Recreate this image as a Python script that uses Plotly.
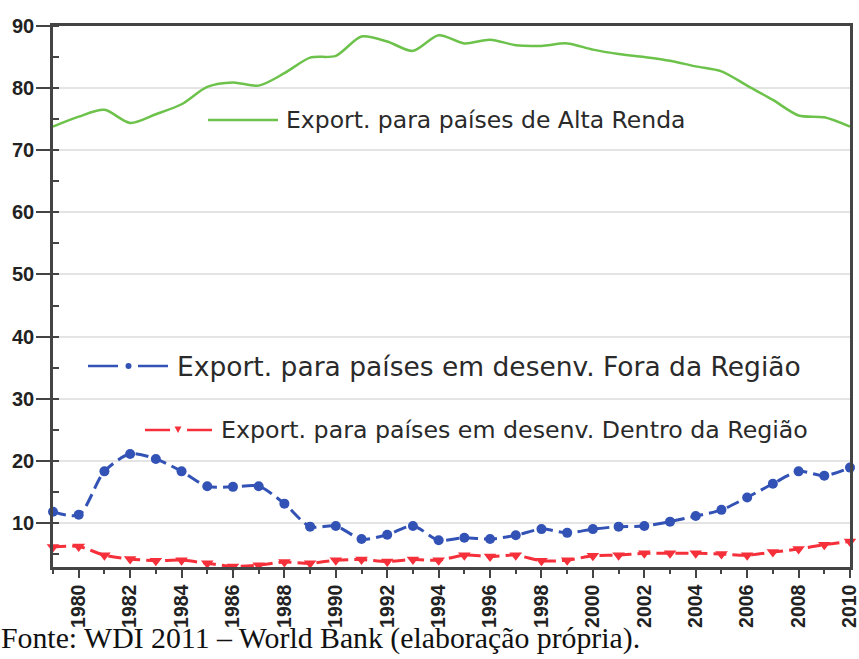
import plotly.graph_objects as go

# ---------------- data ----------------
years = list(range(1979, 2011))
alta_renda = [73.8, 75.4, 76.5, 74.4, 75.8, 77.4, 80.2, 80.9, 80.4, 82.4, 84.9, 85.2,
              88.3, 87.5, 86.0, 88.5, 87.2, 87.8, 86.9, 86.8, 87.2, 86.2, 85.5, 85.0,
              84.4, 83.5, 82.7, 80.4, 78.1, 75.6, 75.3, 73.8]
fora_regiao = [11.8, 11.3, 18.3, 21.1, 20.3, 18.3, 15.9, 15.8, 15.9, 13.1, 9.4, 9.5,
               7.4, 8.1, 9.5, 7.2, 7.6, 7.4, 8.0, 9.0, 8.4, 9.0, 9.4, 9.5,
               10.2, 11.1, 12.1, 14.1, 16.3, 18.3, 17.6, 18.9]
dentro_regiao = [6.1, 6.2, 4.8, 4.2, 3.9, 4.0, 3.5, 3.0, 3.2, 3.7, 3.5, 4.0,
                 4.1, 3.8, 4.1, 4.0, 4.8, 4.6, 4.8, 3.9, 4.0, 4.7, 4.8, 5.1,
                 5.1, 5.1, 5.0, 4.8, 5.3, 5.8, 6.5, 7.0]
x_tick_vals = list(range(1980, 2011, 2))
x_tick_text = [str(v) for v in x_tick_vals]
y_tick_vals = [10, 20, 30, 40, 50, 60, 70, 80, 90]
y_tick_text = [str(v) for v in y_tick_vals]

name_alta = "Export. para países de Alta Renda"
name_fora = "Export. para países em desenv. Fora da Região"
name_dentro = "Export. para países em desenv. Dentro da Região"
fonte = "Fonte: WDI 2011 – World Bank (elaboração própria)."

GREEN = "#6CC24A"
BLUE = "#3352B5"
RED = "#F5303A"

W, H = 859, 659
L, R, T, B = 53, 9, 26, 92
PW, PH = W - L - R, H - T - B


def px(x):
    return (x - L) / PW


def py(y):
    return (H - B - y) / PH


fig = go.Figure()
fig.add_trace(go.Scatter(x=years, y=alta_renda, mode="lines", name=name_alta,
                         line=dict(color=GREEN, width=2.5, shape="spline", smoothing=0.8),
                         cliponaxis=False))
fig.add_trace(go.Scatter(x=years, y=fora_regiao, mode="lines+markers", name=name_fora,
                         line=dict(color=BLUE, width=3, shape="spline", smoothing=0.8,
                                   dash="13px,6px"),
                         marker=dict(symbol="circle", size=10, color=BLUE),
                         cliponaxis=False))
fig.add_trace(go.Scatter(x=years, y=dentro_regiao, mode="lines+markers", name=name_dentro,
                         line=dict(color=RED, width=3, shape="spline", smoothing=0.8,
                                   dash="13px,6px"),
                         marker=dict(symbol="triangle-down", size=11, color=RED),
                         cliponaxis=False))

# ------------- legend-like labels -------------
shapes = []
annotations = []
TXT = "#2a2a2a"
LEGFONT = "DejaVu Sans"

# green
shapes.append(dict(type="line", xref="paper", yref="paper", x0=px(208), x1=px(278),
                   y0=py(120), y1=py(120), line=dict(color=GREEN, width=2.5)))
annotations.append(dict(xref="paper", yref="paper", x=px(284), y=py(120), xanchor="left",
                        yanchor="middle", text=name_alta, showarrow=False,
                        font=dict(family=LEGFONT, size=23.5, color=TXT)))
# blue
shapes.append(dict(type="line", xref="paper", yref="paper", x0=px(88), x1=px(118),
                   y0=py(366), y1=py(366), line=dict(color=BLUE, width=2.5)))
shapes.append(dict(type="line", xref="paper", yref="paper", x0=px(138), x1=px(168),
                   y0=py(366), y1=py(366), line=dict(color=BLUE, width=2.5)))
shapes.append(dict(type="circle", xref="paper", yref="paper", x0=px(125.5), x1=px(131.5),
                   y0=py(363), y1=py(369), fillcolor=BLUE, line=dict(color=BLUE, width=0)))
annotations.append(dict(xref="paper", yref="paper", x=px(175), y=py(366), xanchor="left",
                        yanchor="middle", text=name_fora, showarrow=False,
                        font=dict(family=LEGFONT, size=26.5, color=TXT)))
# red
shapes.append(dict(type="line", xref="paper", yref="paper", x0=px(145), x1=px(170),
                   y0=py(430), y1=py(430), line=dict(color=RED, width=2.5)))
shapes.append(dict(type="line", xref="paper", yref="paper", x0=px(187), x1=px(212),
                   y0=py(430), y1=py(430), line=dict(color=RED, width=2.5)))
shapes.append(dict(type="path", xref="paper", yref="paper",
                   path=f"M {px(174.5)} {py(426.5)} L {px(181.5)} {py(426.5)} L {px(178)} {py(433)} Z",
                   fillcolor=RED, line=dict(color=RED, width=0)))
annotations.append(dict(xref="paper", yref="paper", x=px(219), y=py(430), xanchor="left",
                        yanchor="middle", text=name_dentro, showarrow=False,
                        font=dict(family=LEGFONT, size=23.7, color=TXT)))

# source note
annotations.append(dict(xref="paper", yref="paper", x=px(-1), y=py(637.5), xanchor="left",
                        yanchor="middle", text=fonte, showarrow=False,
                        font=dict(family="Liberation Serif", size=29.8, color="#111111")))

AXC = "#444444"
fig.update_layout(
    width=W, height=H,
    margin=dict(l=L, r=R, t=T, b=B, pad=0, autoexpand=False),
    paper_bgcolor="white", plot_bgcolor="white",
    showlegend=False,
    shapes=shapes, annotations=annotations,
    xaxis=dict(range=[1979, 2010], tickmode="array", tickvals=x_tick_vals,
               ticktext=x_tick_text, tickangle=-90, ticks="outside", ticklen=8,
               tickwidth=2, tickcolor=AXC, showgrid=False, zeroline=False,
               showline=True, linecolor=AXC, linewidth=2.5, mirror=True, automargin=False,
               ticklabeloverflow="allow", ticklabelstandoff=-1,
               tickfont=dict(family="Liberation Sans", size=19.5, color="#222222", weight="bold"),
               minor=dict(dtick=1, tick0=1979, ticks="outside", ticklen=4, tickwidth=2,
                          tickcolor=AXC, showgrid=False)),
    yaxis=dict(range=[2.9, 90], tickmode="array", tickvals=y_tick_vals,
               ticktext=y_tick_text, ticks="outside", ticklen=14, tickwidth=2,
               tickcolor=AXC, showgrid=True, gridcolor="#E4E4E4", gridwidth=1.5,
               zeroline=False, showline=True, linecolor=AXC, linewidth=2.5, mirror=True,
               automargin=False, ticklabelstandoff=-2, ticklabeloverflow="allow",
               tickfont=dict(family="Liberation Sans", size=20, color="#222222", weight="bold"),
               minor=dict(dtick=5, tick0=0, ticks="inside", ticklen=6, tickwidth=2,
                          tickcolor=AXC, showgrid=False)),
)

fig.write_html("out.html", config={"displayModeBar": False},
               post_script="document.body.style.margin='0px';document.body.style.overflow='hidden';")
